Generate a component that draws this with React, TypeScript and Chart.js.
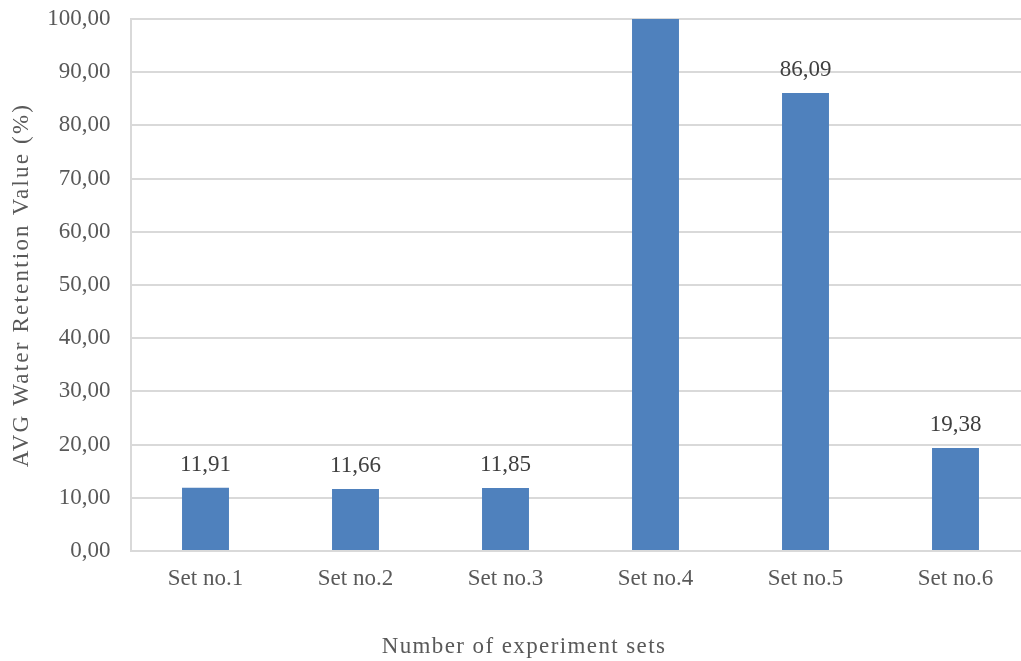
import React, { useEffect, useRef } from "react";
import { Chart, registerables } from "chart.js";

Chart.register(...registerables);

const categories = ["Set no.1", "Set no.2", "Set no.3", "Set no.4", "Set no.5", "Set no.6"];
const retentionValues = [11.91, 11.66, 11.85, 100, 86.09, 19.38];
const yTickValues = [0, 10, 20, 30, 40, 50, 60, 70, 80, 90, 100];

const xTitle = "Number of experiment sets";
const yTitle = "AVG Water Retention Value (%)";

const FONT = "'Liberation Serif', 'Times New Roman', serif";
const TEXT_COLOR = "#595959";
const LABEL_COLOR = "#404040";
const GRID_COLOR = "#d9d9d9";
const BAR_COLOR = "#4f81bd";

const fmt = (v: number) => v.toFixed(2).replace(".", ",");

// Value labels above each bar that fits inside the axis range
const valueLabels = {
  id: "valueLabels",
  afterDatasetsDraw(chart: any) {
    const { ctx } = chart;
    const meta = chart.getDatasetMeta(0);
    const max = chart.scales.y.max;
    ctx.save();
    ctx.font = `23px ${FONT}`;
    ctx.fillStyle = LABEL_COLOR;
    ctx.textAlign = "center";
    ctx.textBaseline = "middle";
    meta.data.forEach((bar: any, i: number) => {
      const v = retentionValues[i];
      if (v >= max) return;
      ctx.fillText(fmt(v), bar.x, bar.y - 23);
    });
    ctx.restore();
  },
};

// Axis titles
const axisTitles = {
  id: "axisTitles",
  afterDraw(chart: any) {
    const { ctx } = chart;
    ctx.save();
    ctx.font = `23px ${FONT}`;
    ctx.fillStyle = TEXT_COLOR;
    ctx.textAlign = "center";
    ctx.textBaseline = "middle";
    (ctx as any).letterSpacing = "1.4px";
    ctx.fillText(xTitle, 524, 647);
    (ctx as any).letterSpacing = "2.2px";
    ctx.translate(22, 285);
    ctx.rotate(-Math.PI / 2);
    ctx.fillText(yTitle, 0, 0);
    ctx.restore();
  },
};

export default function App() {
  const canvasRef = useRef<HTMLCanvasElement>(null);

  useEffect(() => {
    if (!canvasRef.current) return;
    const chart = new Chart(canvasRef.current, {
      type: "bar",
      data: {
        labels: categories,
        datasets: [
          {
            data: retentionValues,
            backgroundColor: BAR_COLOR,
            borderWidth: 0,
            barPercentage: 0.313,
            categoryPercentage: 1,
          },
        ],
      },
      options: {
        responsive: false,
        animation: false,
        devicePixelRatio: 1,
        layout: { padding: { top: 19, right: 9.5, left: 0, bottom: 0 } },
        plugins: {
          legend: { display: false },
          tooltip: { enabled: false },
          title: { display: false },
        },
        scales: {
          x: {
            grid: { display: false, drawTicks: false },
            border: { display: true, color: GRID_COLOR, width: 2 },
            ticks: {
              font: { family: FONT, size: 23 },
              color: TEXT_COLOR,
              padding: 14,
              maxRotation: 0,
            },
            afterFit(scale: any) {
              scale.height = 110;
              scale.paddingLeft = 0;
              scale.paddingRight = 0;
            },
          },
          y: {
            min: 0,
            max: 100,
            afterBuildTicks(scale: any) {
              scale.ticks = yTickValues.map((value) => ({ value }));
            },
            grid: { color: GRID_COLOR, lineWidth: 2, drawTicks: false },
            border: { display: true, color: GRID_COLOR, width: 2 },
            ticks: {
              font: { family: FONT, size: 23 },
              color: TEXT_COLOR,
              padding: 20,
              callback: (v: any) => fmt(Number(v)),
            },
            afterFit(scale: any) {
              scale.width = 130.5;
              scale.paddingTop = 0;
              scale.paddingBottom = 0;
            },
          },
        },
      },
      plugins: [valueLabels, axisTitles],
    });
    return () => chart.destroy();
  }, []);

  return (
    <div
      style={{
        position: "fixed",
        left: 0,
        top: 0,
        width: 1021,
        height: 661,
        overflow: "hidden",
        background: "#fff",
      }}
    >
      <canvas ref={canvasRef} width={1040} height={661} style={{ display: "block" }} />
    </div>
  );
}
